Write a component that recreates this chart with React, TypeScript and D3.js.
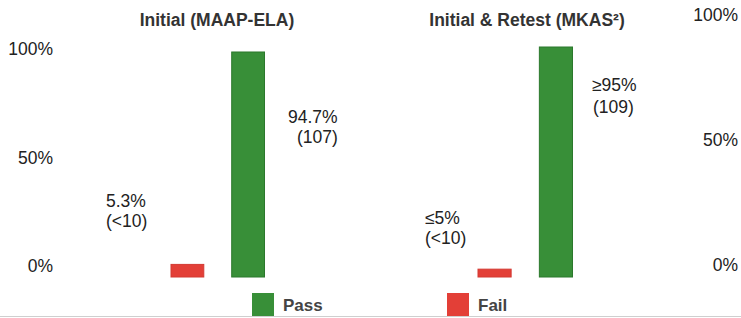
import React from "react";
import * as d3 from "d3";

const categories = ["Fail", "Pass"];
const panelTitles = ["Initial (MAAP-ELA)", "Initial & Retest (MKAS²)"];
const initialValues = [5.3, 94.7];
const retestValues = [3.3, 96.8];
const initialLabels = [["5.3%", "(<10)"], ["94.7%", "(107)"]];
const retestLabels = [["≤5%", "(<10)"], ["≥95%", "(109)"]];
const tickValues = [0, 50, 100];
const tickLabels = ["0%", "50%", "100%"];

const W = 741;
const H = 318;
const GREEN = "#388f38";
const GREEN_STROKE = "#2b782c";
const RED = "#e33f37";
const TEXT = "#222";
const FONT = "'Liberation Sans', Arial, sans-serif";

const colorOf = (c: string) => (c === "Pass" ? GREEN : RED);

const y = d3.scaleLinear().domain([0, 100]).range([277, 39.4]);
const leftAxisY = d3.scaleLinear().domain([0, 100]).range([272, 55]);
const rightAxisY = d3.scaleLinear().domain([0, 100]).range([271, 21]);

const panels = [
  {
    title: panelTitles[0],
    titleX: 217,
    values: initialValues,
    labels: initialLabels,
    x: d3.scaleBand<string>().domain(categories).range([171, 264.5]).paddingInner(0.46),
    labelPos: [
      [{ x: 106, y: 207 }, { x: 106, y: 227 }],
      [{ x: 288, y: 123 }, { x: 297, y: 143 }],
    ],
  },
  {
    title: panelTitles[1],
    titleX: 527,
    values: retestValues,
    labels: retestLabels,
    x: d3.scaleBand<string>().domain(categories).range([478, 572.5]).paddingInner(0.46),
    labelPos: [
      [{ x: 425, y: 224 }, { x: 425, y: 244 }],
      [{ x: 592, y: 91 }, { x: 593, y: 113 }],
    ],
  },
];

const legendItems = [
  { name: "Pass", x: 252 },
  { name: "Fail", x: 447 },
];

export default function App() {
  return (
    <svg
      width={W}
      height={H}
      style={{ position: "absolute", left: 0, top: 0, background: "#fff" }}
      fontFamily={FONT}
    >
      {panels.map((p, pi) => (
        <g key={pi}>
          <text
            x={p.titleX}
            y={26}
            textAnchor="middle"
            fontSize={17.5}
            fontWeight="bold"
            fill="#333"
          >
            {p.title}
          </text>
          {categories.map((c, i) => (
            <rect
              key={c}
              x={p.x(c)}
              y={y(p.values[i])}
              width={p.x.bandwidth()}
              height={y(0) - y(p.values[i])}
              fill={colorOf(c)}
              stroke={c === "Pass" ? GREEN_STROKE : "#d33a33"}
              strokeWidth={1}
            />
          ))}
          {p.labels.map((lines, i) =>
            lines.map((t, li) => (
              <text
                key={`${i}-${li}`}
                x={p.labelPos[i][li].x}
                y={p.labelPos[i][li].y}
                fontSize={17.5}
                fill={TEXT}
              >
                {t}
              </text>
            ))
          )}
        </g>
      ))}
      {tickValues.map((v, i) => (
        <text key={`l${v}`} x={53} y={leftAxisY(v)} textAnchor="end" fontSize={17.5} fill={TEXT}>
          {tickLabels[i]}
        </text>
      ))}
      {tickValues.map((v, i) => (
        <text key={`r${v}`} x={738} y={rightAxisY(v)} textAnchor="end" fontSize={17.5} fill={TEXT}>
          {tickLabels[i]}
        </text>
      ))}
      {legendItems.map((l) => (
        <g key={l.name}>
          <rect x={l.x} y={293} width={22} height={23} fill={colorOf(l.name)} />
          <text x={l.x + 31} y={311} fontSize={17} fontWeight="bold" fill="#444">
            {l.name}
          </text>
        </g>
      ))}
      <line x1={0} x2={W} y1={316.5} y2={316.5} stroke="#cfcfcf" strokeWidth={1} />
    </svg>
  );
}
